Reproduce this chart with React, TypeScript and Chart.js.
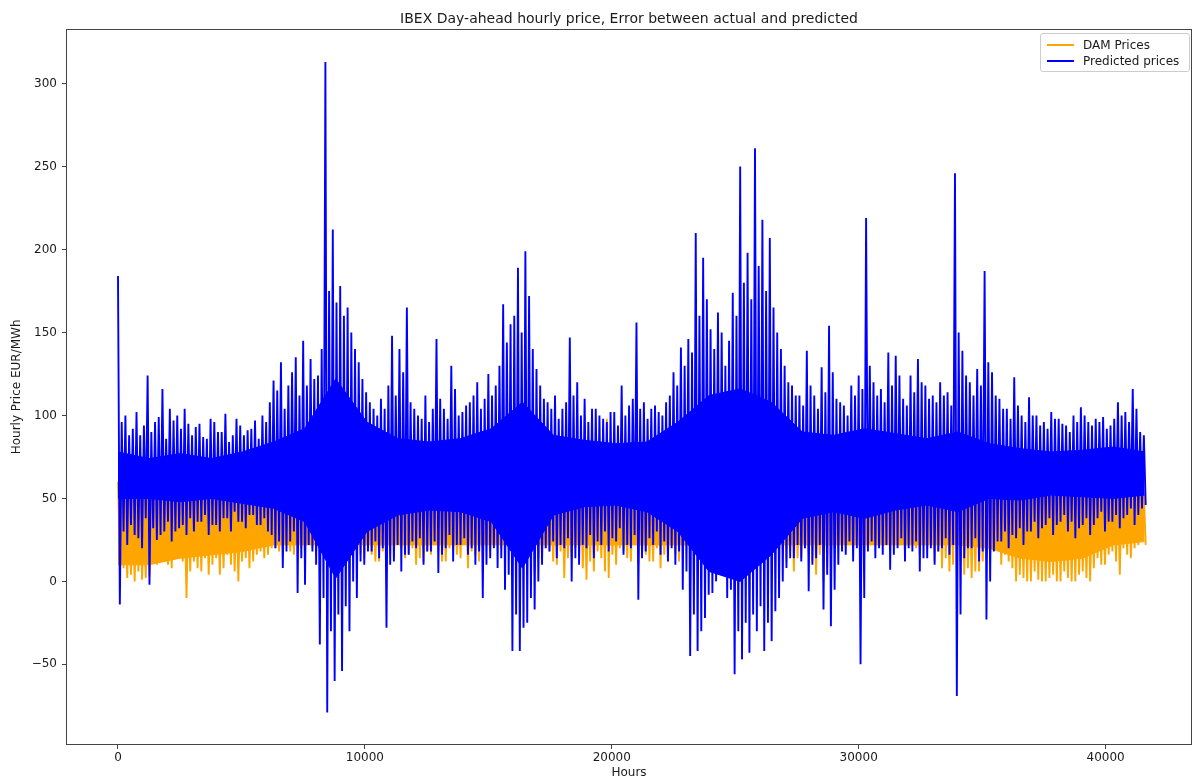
import React, { useEffect, useRef } from 'react';
import { Chart, registerables } from 'chart.js';

Chart.register(...registerables);

const TITLE = 'IBEX Day-ahead hourly price, Error between actual and predicted';
const X_LABEL = 'Hours';
const Y_LABEL = 'Hourly Price EUR/MWh';
const DAM_NAME = 'DAM Prices';
const PRED_NAME = 'Predicted prices';
const X_TICKS = [0, 10000, 20000, 30000, 40000];
const Y_TICKS = [-50, 0, 50, 100, 150, 200, 250, 300];
const X_MIN = -2106;
const X_MAX = 43500;
const Y_MIN = -98.6;
const Y_MAX = 333;

// hours per group of strands (A peak, A trough, B peak, B trough), and per core-band sample
const ZIG_STEP = 300;
const ENV_STEP = 1260;

// Predicted prices: major strands
const PRED_PEAK = [
  184, 100, 92, 88, 124, 96, 116, 104, 100, 104,
  88, 95, 86, 96, 90, 84, 98, 88, 92, 86,
  96, 121, 132, 118, 135, 145, 134, 124, 313, 212,
  178, 165, 140, 122, 108, 100, 104, 148, 140, 165,
  104, 98, 96, 146, 104, 130, 100, 106, 112, 104,
  125, 118, 167, 155, 189, 199, 140, 118, 108, 112,
  104, 147, 120, 110, 104, 100, 96, 102, 118, 106,
  156, 108, 104, 102, 108, 126, 141, 146, 210, 195,
  152, 162, 130, 174, 250, 198, 261, 218, 207, 150,
  130, 118, 112, 139, 112, 129, 154, 110, 106, 118,
  124, 219, 120, 116, 138, 136, 110, 124, 134, 118,
  112, 120, 114, 246, 139, 120, 128, 187, 126, 110,
  104, 123, 100, 111, 100, 96, 102, 98, 94, 100,
  105, 96, 98, 99, 94, 108, 102, 116, 90,
];
const PRED_TROUGH = [
  -14, 22, 28, 20, -2, 25, 30, 24, 32, 28,
  30, 36, 28, 34, 38, 30, 36, 32, 40, 34,
  30, 20, 8, 24, -7, -2, 18, -38, -79, -60,
  -54, -30, -10, 10, 18, 14, -28, 12, 6, 16,
  20, 10, 18, 5, 20, 12, 22, 16, 10, -10,
  14, 8, -5, -42, -42, -25, -17, 10, 18, 14,
  20, 0, 10, 20, 14, 22, 18, 24, 16, 20,
  -11, 18, 22, 16, 12, 10, -5, -45, -42, -22,
  -7, 4, -10, -56, -47, -43, -30, -42, -36, -10,
  8, 14, 12, -6, 14, -17, -27, 10, 16, 12,
  -50, 18, 14, 16, 7, 20, 12, 18, 6, 14,
  10, 20, 16, -69, 14, 20, 12, -23, 18, 24,
  20, 26, 22, 30, 26, 34, 28, 36, 30, 26,
  34, 28, 38, 30, 36, 32, 40, 34, 44,
];
// Predicted prices: minor strands
const PRED_PEAK_B = [
  96, 88, 102, 94, 90, 99, 86, 97, 92, 95,
  93, 87, 98, 90, 101, 88, 94, 91, 97, 100,
  108, 115, 104, 126, 112, 118, 122, 140, 175, 168,
  160, 150, 132, 114, 104, 110, 118, 112, 126, 108,
  100, 112, 104, 110, 98, 116, 102, 108, 120, 110,
  112, 130, 144, 160, 150, 172, 128, 110, 104, 98,
  108, 112, 100, 96, 104, 98, 102, 94, 100, 110,
  104, 98, 106, 100, 112, 118, 130, 138, 160, 170,
  140, 150, 145, 160, 180, 170, 190, 175, 165, 140,
  120, 112, 106, 118, 104, 114, 126, 108, 100, 112,
  116, 130, 112, 108, 118, 124, 106, 114, 120, 110,
  108, 112, 106, 150, 124, 112, 118, 132, 112, 104,
  98, 106, 96, 100, 94, 92, 98, 95, 90, 96,
  100, 94, 96, 92, 98, 100, 96, 104, 88,
];
const PRED_TROUGH_B = [
  30, 34, 26, 38, 32, 28, 36, 30, 34, 38,
  36, 40, 34, 30, 38, 42, 36, 40, 34, 38,
  28, 24, 18, 30, 14, 22, 10, -10, -30, -20,
  -15, 0, 12, 18, 24, 20, 10, 22, 16, 24,
  26, 18, 24, 16, 28, 22, 26, 20, 18, 10,
  20, 14, 4, -20, -28, -10, 0, 20, 24, 22,
  26, 14, 22, 28, 24, 30, 26, 32, 22, 28,
  14, 26, 30, 24, 20, 18, 6, -20, -30, -8,
  0, 10, -5, -30, -25, -20, -15, -25, -18, 0,
  14, 22, 20, 10, 22, 4, -5, 18, 24, 20,
  -10, 24, 20, 22, 16, 26, 20, 24, 14, 20,
  18, 26, 22, -20, 20, 26, 18, 0, 24, 30,
  28, 32, 30, 36, 32, 38, 34, 40, 36, 32,
  38, 34, 42, 36, 40, 38, 44, 40, 46,
];
// Predicted prices: dense core band (one sample per ENV_STEP hours)
const PRED_CORE_HIGH = [78, 74, 77, 74, 78, 84, 92, 122, 96, 86, 84, 86, 92, 108, 88, 85, 83, 84, 96, 112, 116, 108, 90, 88, 92, 89, 86, 90, 83, 80, 78, 79, 81, 78];
const PRED_CORE_LOW = [50, 50, 48, 50, 47, 44, 36, 2, 30, 40, 43, 42, 36, 8, 40, 45, 46, 42, 30, 6, 0, 16, 38, 42, 38, 43, 46, 42, 50, 49, 52, 51, 50, 52];

// DAM prices: major strands
const DAM_PEAK = [
  60, 48, 44, 50, 46, 42, 48, 45, 50, 44,
  46, 50, 44, 48, 52, 46, 50, 48, 52, 47,
  55, 50, 58, 52, 60, 56, 62, 70, 90, 85,
  75, 70, 62, 58, 55, 52, 56, 60, 58, 62,
  55, 52, 58, 60, 54, 56, 52, 58, 55, 60,
  58, 62, 70, 80, 85, 90, 75, 65, 58, 55,
  56, 52, 58, 54, 60, 56, 98, 55, 52, 58,
  60, 56, 54, 58, 60, 62, 66, 72, 85, 90,
  80, 86, 75, 92, 100, 95, 110, 98, 90, 75,
  66, 60, 58, 62, 56, 60, 64, 58, 56, 60,
  62, 70, 58, 56, 60, 58, 62, 56, 60, 58,
  56, 60, 58, 140, 62, 58, 60, 70, 56, 54,
  52, 50, 48, 52, 46, 50, 48, 52, 46, 50,
  48, 52, 50, 54, 50, 56, 52, 54, 50,
];
const DAM_TROUGH = [
  20, 2, 0, 1, 3, 10, 14, 8, 16, -10,
  12, 6, 4, 14, 8, 10, 0, 14, 12, 18,
  16, 20, 14, 18, 22, 16, 20, 22, 22, 22,
  22, 20, 18, 14, 16, 12, 18, 14, 20, 16,
  10, 12, 16, 18, 12, 20, 14, 8, 16, 20,
  18, 22, 22, 22, 22, 18, 6, 14, 18, 10,
  2, 14, 20, 1, 6, 14, 2, 10, 18, 12,
  10, 16, 12, 8, 12, 16, 22, 22, 22, 22,
  14, 10, 22, 22, 20, 16, 22, 14, 22, 16,
  12, 6, 14, 18, 4, 0, 14, 22, 22, 18,
  10, 22, 22, 22, 20, 22, 18, 22, 16, 20,
  12, 8, 6, 8, 4, 2, 6, 14, 20, 10,
  12, 0, 2, 0, 1, 0, 4, 0, 2, 0,
  6, 0, 14, 10, 18, 4, 16, 20, 24,
];
// DAM prices: minor strands
const DAM_PEAK_B = [
  46, 44, 48, 42, 46, 44, 50, 46, 44, 48,
  48, 46, 50, 44, 48, 50, 46, 52, 48, 50,
  52, 54, 50, 56, 54, 58, 60, 66, 80, 75,
  70, 64, 60, 56, 54, 56, 58, 56, 60, 58,
  56, 58, 54, 58, 56, 60, 54, 56, 58, 56,
  60, 64, 68, 75, 82, 80, 70, 60, 56, 58,
  54, 56, 60, 56, 58, 54, 60, 56, 54, 56,
  58, 60, 56, 60, 58, 64, 68, 70, 80, 85,
  82, 80, 78, 88, 95, 90, 100, 92, 85, 72,
  64, 62, 60, 58, 60, 58, 62, 60, 58, 62,
  64, 66, 60, 58, 62, 60, 60, 58, 62, 56,
  58, 62, 56, 90, 60, 56, 58, 64, 54, 52,
  50, 52, 50, 48, 50, 48, 50, 46, 48, 52,
  50, 48, 52, 50, 52, 50, 54, 52, 52,
];
const DAM_TROUGH_B = [
  8, 4, 6, 2, 12, 16, 10, 18, 12, 6,
  8, 14, 10, 4, 16, 6, 12, 8, 16, 14,
  20, 18, 22, 16, 20, 22, 18, 22, 22, 20,
  22, 22, 16, 20, 12, 18, 16, 22, 14, 20,
  14, 18, 22, 12, 20, 16, 22, 18, 12, 22,
  22, 20, 22, 22, 20, 22, 14, 20, 12, 18,
  14, 20, 8, 12, 18, 6, 16, 20, 14, 22,
  18, 12, 20, 16, 22, 12, 22, 22, 22, 22,
  22, 18, 22, 22, 22, 22, 18, 22, 22, 20,
  18, 14, 20, 12, 16, 8, 20, 22, 22, 22,
  16, 22, 22, 22, 22, 22, 22, 20, 22, 22,
  18, 14, 10, 12, 8, 6, 12, 20, 22, 16,
  8, 4, 0, 6, 0, 2, 0, 6, 0, 4,
  2, 8, 10, 16, 12, 20, 14, 22, 22,
];
// DAM prices: dense core band
const DAM_CORE_HIGH = [52, 50, 52, 54, 55, 56, 58, 70, 58, 56, 56, 56, 58, 64, 56, 56, 56, 58, 62, 70, 72, 66, 58, 58, 58, 58, 58, 58, 54, 54, 54, 54, 54, 54];
const DAM_CORE_LOW = [10, 10, 14, 16, 18, 22, 22, 22, 22, 22, 22, 22, 22, 22, 22, 22, 22, 22, 22, 22, 22, 22, 22, 22, 22, 22, 22, 22, 20, 14, 12, 14, 22, 24];

const BLUE = '#0000ff';
const ORANGE = '#ffa500';
const TEXT = '#1a1a1a';
const SPINE = '#444444';
const FONT = 'DejaVu Sans';

// Interleave the four strand lists into one polyline (a, trough a, b, trough b, ...)
const strands = (pA: number[], tA: number[], pB: number[], tB: number[]) =>
  pA.flatMap((p, i) => [
    { x: i * ZIG_STEP, y: p },
    { x: i * ZIG_STEP + ZIG_STEP / 4, y: tA[i] },
    { x: i * ZIG_STEP + ZIG_STEP / 2, y: pB[i] },
    { x: i * ZIG_STEP + (3 * ZIG_STEP) / 4, y: tB[i] },
  ]);
const env = (vals: number[]) => vals.map((v, i) => ({ x: i * ENV_STEP, y: v }));

const framePlugin = {
  id: 'frame',
  afterDraw(chart: any) {
    const { ctx, chartArea } = chart;
    ctx.save();
    ctx.strokeStyle = SPINE;
    ctx.lineWidth = 1;
    ctx.strokeRect(
      Math.round(chartArea.left) + 0.5,
      Math.round(chartArea.top) + 0.5,
      Math.round(chartArea.right - chartArea.left) - 1,
      Math.round(chartArea.bottom - chartArea.top) - 1
    );
    ctx.restore();
  },
};

const fmtY = (v: number) => (v < 0 ? '\u2212' + Math.abs(v) : String(v));

export default function App() {
  const canvasRef = useRef<HTMLCanvasElement | null>(null);

  useEffect(() => {
    document.body.style.margin = '0';
    const canvas = canvasRef.current;
    if (!canvas) return;
    const line = (extra: any) => ({
      pointRadius: 0,
      tension: 0,
      fill: false,
      ...extra,
    });
    const chart = new Chart(canvas, {
      type: 'line',
      data: {
        datasets: [
          line({ label: PRED_NAME, data: strands(PRED_PEAK, PRED_TROUGH, PRED_PEAK_B, PRED_TROUGH_B), borderColor: BLUE, borderWidth: 1.9, order: 0 }),
          line({ label: 'pred-core-high', data: env(PRED_CORE_HIGH), borderColor: BLUE, borderWidth: 1, backgroundColor: BLUE, fill: 2, order: 1 }),
          line({ label: 'pred-core-low', data: env(PRED_CORE_LOW), borderColor: BLUE, borderWidth: 1, order: 2 }),
          line({ label: DAM_NAME, data: strands(DAM_PEAK, DAM_TROUGH, DAM_PEAK_B, DAM_TROUGH_B), borderColor: ORANGE, borderWidth: 1.9, order: 3 }),
          line({ label: 'dam-core-high', data: env(DAM_CORE_HIGH), borderColor: ORANGE, borderWidth: 1, backgroundColor: ORANGE, fill: 5, order: 4 }),
          line({ label: 'dam-core-low', data: env(DAM_CORE_LOW), borderColor: ORANGE, borderWidth: 1, order: 5 }),
        ],
      },
      options: {
        responsive: false,
        animation: false,
        devicePixelRatio: 1,
        events: [],
        layout: { padding: { left: 0, right: 2, top: 0, bottom: 0 } },
        plugins: {
          legend: { display: false },
          tooltip: { enabled: false },
          title: {
            display: true,
            text: TITLE,
            fullSize: false,
            color: TEXT,
            font: { family: FONT, size: 14, weight: 'normal' },
            padding: { top: 11, bottom: 1 },
          },
        },
        scales: {
          x: {
            type: 'linear',
            min: X_MIN,
            max: X_MAX,
            afterBuildTicks: (axis: any) => {
              axis.ticks = X_TICKS.map((v) => ({ value: v }));
            },
            afterFit: (axis: any) => {
              axis.height = 35;
            },
            ticks: {
              color: TEXT,
              font: { family: FONT, size: 12 },
              padding: 2,
              maxRotation: 0,
              autoSkip: false,
              callback: (v: any) => String(v),
            },
            grid: { display: true, drawOnChartArea: false, drawTicks: true, tickLength: 4, color: SPINE },
            border: { display: false },
            title: {
              display: true,
              text: X_LABEL,
              color: TEXT,
              font: { family: FONT, size: 12 },
              padding: { top: 0, bottom: 0 },
            },
          },
          y: {
            type: 'linear',
            min: Y_MIN,
            max: Y_MAX,
            afterBuildTicks: (axis: any) => {
              axis.ticks = Y_TICKS.map((v) => ({ value: v }));
            },
            afterFit: (axis: any) => {
              axis.width = 66;
            },
            ticks: {
              color: TEXT,
              font: { family: FONT, size: 12 },
              padding: 5,
              autoSkip: false,
              callback: (v: any) => fmtY(Number(v)),
            },
            grid: { display: true, drawOnChartArea: false, drawTicks: true, tickLength: 4, color: SPINE },
            border: { display: false },
            title: {
              display: true,
              text: Y_LABEL,
              color: TEXT,
              font: { family: FONT, size: 12 },
              padding: { top: 10, bottom: 0 },
            },
          },
        },
      },
      plugins: [framePlugin],
    } as any);
    return () => chart.destroy();
  }, []);

  const row = (color: string, text: string) => (
    <div style={{ display: 'flex', alignItems: 'center', height: 16 }}>
      <span style={{ display: 'inline-block', width: 27, height: 2, background: color, marginLeft: 6, marginRight: 9 }} />
      <span style={{ whiteSpace: 'nowrap' }}>{text}</span>
    </div>
  );

  return (
    <div style={{ position: 'relative', width: 1194, height: 780 }}>
      <canvas ref={canvasRef} width={1194} height={780} style={{ display: 'block' }} />
      <div
        style={{
          position: 'absolute',
          left: 1040,
          top: 33,
          width: 150,
          height: 39,
          border: '1px solid #cccccc',
          borderRadius: 3,
          background: 'rgba(255,255,255,0.85)',
          fontFamily: FONT,
          fontSize: 12,
          color: TEXT,
          paddingTop: 3,
          boxSizing: 'border-box',
        }}
      >
        {row(ORANGE, DAM_NAME)}
        {row(BLUE, PRED_NAME)}
      </div>
    </div>
  );
}
